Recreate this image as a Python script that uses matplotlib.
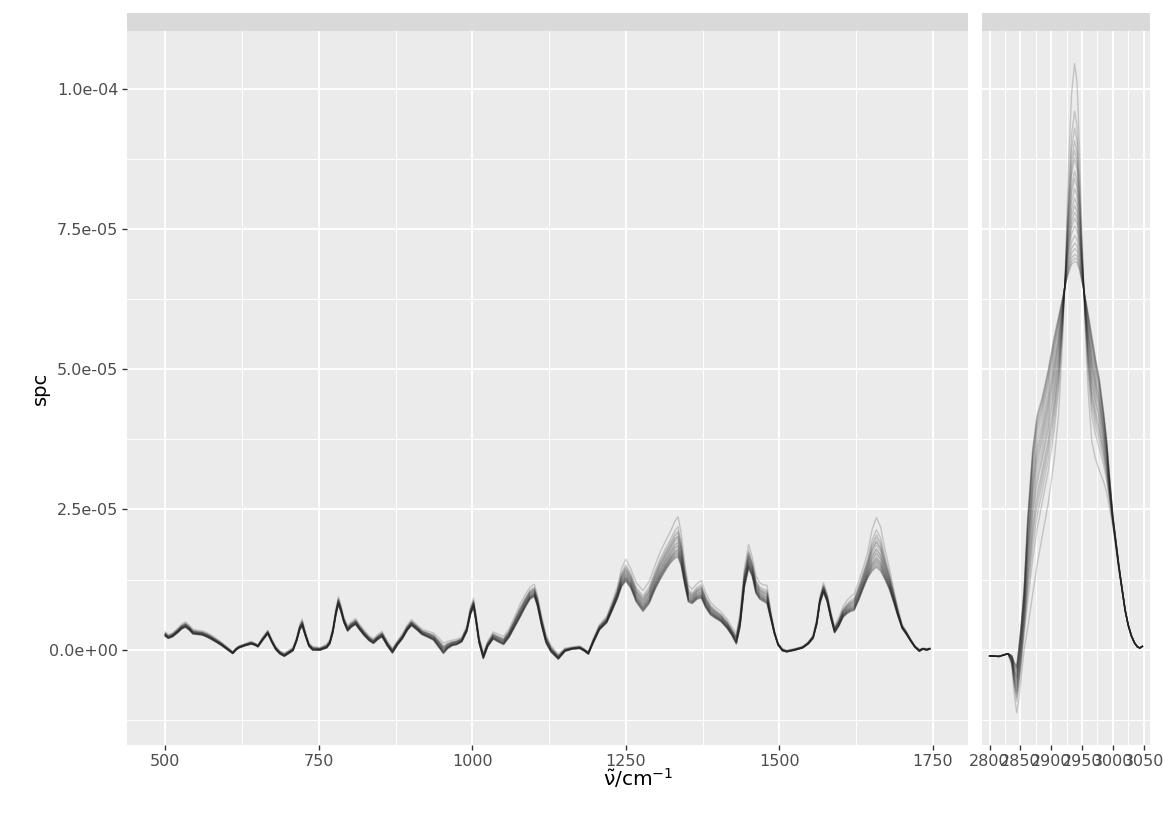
import numpy as np
import matplotlib.pyplot as plt
from matplotlib.patches import Rectangle

plt.rcParams['font.family'] = ['DejaVu Sans']
plt.rcParams['mathtext.fontset'] = 'dejavusans'
plt.rcParams['mathtext.default'] = 'regular'

# fingerprint region: wavenumber (cm^-1), lower and upper envelope of the spectra (x 1e-5)
wn_fp = [500, 505, 512, 520, 527, 533, 539, 545, 552, 560,
         567, 574, 582, 591, 600, 610, 615, 620, 630, 640,
         646, 651, 659, 667, 674, 680, 687, 694, 701, 708,
         714, 719, 723, 728, 734, 740, 752, 763, 768, 773,
         778, 782, 786, 791, 797, 803, 810, 816, 824, 832,
         839, 846, 853, 862, 870, 878, 886, 894, 901, 909,
         918, 928, 937, 945, 953, 960, 967, 975, 983, 991,
         997, 1002, 1006, 1011, 1018, 1025, 1034, 1042, 1051, 1060,
         1070, 1078, 1086, 1094, 1101, 1106, 1113, 1120, 1128, 1140,
         1151, 1163, 1175, 1182, 1189, 1197, 1207, 1219, 1228, 1236,
         1243, 1250, 1258, 1267, 1278, 1288, 1298, 1306, 1315, 1323,
         1330, 1335, 1340, 1346, 1352, 1358, 1366, 1373, 1380, 1388,
         1396, 1405, 1415, 1423, 1430, 1436, 1443, 1450, 1456, 1462,
         1468, 1474, 1480, 1486, 1492, 1498, 1505, 1512, 1525, 1538,
         1547, 1555, 1561, 1566, 1572, 1578, 1584, 1590, 1597, 1604,
         1610, 1616, 1622, 1630, 1637, 1644, 1651, 1658, 1665, 1672,
         1679, 1686, 1693, 1700, 1707, 1714, 1721, 1728, 1734, 1740,
         1745]
fp_low = [0.24, 0.20, 0.23, 0.30, 0.37, 0.40, 0.35, 0.28, 0.27, 0.26,
          0.23, 0.19, 0.14, 0.08, 0.01, -0.07, -0.01, 0.03, 0.07, 0.10,
          0.08, 0.05, 0.17, 0.28, 0.12, 0.00, -0.08, -0.12, -0.07, -0.02,
          0.15, 0.35, 0.42, 0.25, 0.06, -0.01, -0.01, 0.03, 0.10, 0.30,
          0.62, 0.80, 0.68, 0.48, 0.33, 0.40, 0.45, 0.36, 0.25, 0.16,
          0.11, 0.18, 0.23, 0.06, -0.06, 0.08, 0.19, 0.34, 0.43, 0.36,
          0.27, 0.22, 0.17, 0.05, -0.07, 0.02, 0.07, 0.09, 0.14, 0.32,
          0.62, 0.76, 0.50, 0.12, -0.16, 0.05, 0.19, 0.14, 0.09, 0.22,
          0.42, 0.58, 0.75, 0.90, 0.95, 0.78, 0.42, 0.12, -0.04, -0.17,
          -0.03, 0.01, 0.02, -0.02, -0.08, 0.12, 0.35, 0.48, 0.70, 0.90,
          1.12, 1.22, 1.10, 0.85, 0.68, 0.82, 1.08, 1.25, 1.42, 1.55,
          1.63, 1.65, 1.50, 1.15, 0.85, 0.82, 0.90, 0.92, 0.75, 0.62,
          0.56, 0.50, 0.38, 0.25, 0.10, 0.40, 1.10, 1.45, 1.30, 1.00,
          0.90, 0.86, 0.82, 0.55, 0.28, 0.08, -0.02, -0.04, -0.01, 0.03,
          0.10, 0.20, 0.45, 0.82, 1.02, 0.85, 0.55, 0.30, 0.42, 0.58,
          0.64, 0.68, 0.70, 0.90, 1.10, 1.28, 1.40, 1.47, 1.40, 1.25,
          1.08, 0.85, 0.60, 0.38, 0.27, 0.15, 0.04, -0.03, 0.01, -0.01,
          0.01]
fp_high = [0.32, 0.27, 0.30, 0.38, 0.46, 0.50, 0.44, 0.37, 0.35, 0.34,
           0.31, 0.27, 0.21, 0.14, 0.06, -0.03, 0.03, 0.07, 0.11, 0.15,
           0.12, 0.09, 0.23, 0.35, 0.18, 0.06, -0.02, -0.06, -0.01, 0.04,
           0.22, 0.45, 0.55, 0.33, 0.12, 0.06, 0.04, 0.10, 0.18, 0.40,
           0.74, 0.95, 0.80, 0.58, 0.43, 0.50, 0.56, 0.46, 0.35, 0.25,
           0.20, 0.27, 0.33, 0.15, 0.03, 0.16, 0.28, 0.44, 0.54, 0.46,
           0.37, 0.33, 0.30, 0.22, 0.12, 0.15, 0.17, 0.19, 0.23, 0.42,
           0.76, 0.92, 0.64, 0.24, -0.05, 0.15, 0.32, 0.28, 0.24, 0.38,
           0.62, 0.82, 0.98, 1.12, 1.17, 0.98, 0.60, 0.28, 0.08, -0.08,
           0.03, 0.05, 0.07, 0.02, -0.03, 0.20, 0.45, 0.60, 0.86, 1.12,
           1.45, 1.62, 1.45, 1.20, 1.06, 1.22, 1.52, 1.75, 1.95, 2.12,
           2.30, 2.38, 2.10, 1.55, 1.15, 1.08, 1.18, 1.24, 1.02, 0.85,
           0.76, 0.68, 0.55, 0.40, 0.30, 0.65, 1.45, 1.88, 1.65, 1.32,
           1.20, 1.16, 1.15, 0.70, 0.35, 0.12, 0.02, -0.01, 0.02, 0.06,
           0.14, 0.26, 0.55, 0.95, 1.20, 1.00, 0.68, 0.42, 0.58, 0.78,
           0.88, 0.95, 1.00, 1.25, 1.48, 1.75, 2.15, 2.37, 2.20, 1.80,
           1.47, 1.10, 0.75, 0.45, 0.33, 0.19, 0.07, 0.01, 0.03, 0.02,
           0.03]

# CH stretching region: wavenumber (cm^-1), broad/low and narrow/high spectrum (x 1e-5)
wn_ch = [2800, 2815, 2830, 2836, 2840, 2844, 2848, 2852, 2856, 2862,
         2870, 2877, 2885, 2895, 2905, 2912, 2918, 2923, 2928, 2933,
         2938, 2942, 2946, 2950, 2955, 2960, 2966, 2972, 2978, 2985,
         2990, 2995, 3000, 3005, 3010, 3015, 3020, 3025, 3030, 3035,
         3040, 3044, 3048]
ch_broad = [-0.11, -0.12, -0.07, -0.10, -0.22, -0.28, 0.10, 0.55, 1.10, 2.40,
            3.60, 4.20, 4.50, 5.00, 5.60, 5.95, 6.25, 6.50, 6.70, 6.85,
            6.90, 6.88, 6.75, 6.55, 6.30, 6.00, 5.60, 5.20, 4.85, 4.25,
            3.75, 3.05, 2.40, 1.95, 1.50, 1.10, 0.72, 0.45, 0.26, 0.13,
            0.05, 0.03, 0.06]
ch_narrow = [-0.11, -0.12, -0.07, -0.30, -0.80, -1.12, -0.85, -0.40, 0.00, 0.40,
             1.00, 1.50, 2.00, 2.60, 3.40, 4.20, 5.40, 6.80, 8.60, 9.90,
             10.45, 10.10, 8.90, 7.40, 5.80, 4.60, 3.70, 3.40, 3.20, 3.00,
             2.80, 2.50, 2.20, 1.80, 1.40, 1.05, 0.68, 0.42, 0.24, 0.12,
             0.05, 0.03, 0.06]

# per-spectrum peak heights (x 1e-5) at 1335 and 2938 cm^-1
peak_1335 = [2.37, 2.19, 2.12, 2.08, 2.03, 2.01, 1.97, 1.92, 1.90, 1.86,
             1.84, 1.80, 1.78, 1.76, 1.74, 1.72, 1.70, 1.68, 1.66, 1.65]
peak_2938 = [10.45, 9.60, 9.30, 9.07, 8.90, 8.76, 8.53, 8.40, 8.22, 8.05,
             7.92, 7.80, 7.69, 7.55, 7.38, 7.25, 7.15, 7.05, 6.98, 6.92]

ytick_pos = [0, 2.5, 5, 7.5, 10]
ytick_labels = ['0.0e+00', '2.5e-05', '5.0e-05', '7.5e-05', '1.0e-04']

W, H = 1164, 814
fig = plt.figure(figsize=(W / 100, H / 100), dpi=100)
ax1 = fig.add_axes([127 / W, 69 / H, 841 / W, 714 / H])
ax2 = fig.add_axes([982 / W, 69 / H, 168 / W, 714 / H])

wn_fp_a, lo, hi = np.array(wn_fp), np.array(fp_low), np.array(fp_high)
i_fp = wn_fp.index(1335)
wn_ch_a, br, na = np.array(wn_ch), np.array(ch_broad), np.array(ch_narrow)
i_ch = wn_ch.index(2938)

for p1, p2 in zip(peak_1335, peak_2938):
    w1 = (p1 - lo[i_fp]) / (hi[i_fp] - lo[i_fp])
    ax1.plot(wn_fp_a, lo + w1 * (hi - lo), color='#202020', alpha=0.2, lw=1.0,
             solid_joinstyle='round')
    w2 = (p2 - br[i_ch]) / (na[i_ch] - br[i_ch])
    ax2.plot(wn_ch_a, br + w2 * (na - br), color='#202020', alpha=0.2, lw=1.0,
             solid_joinstyle='round')

ymin = min(lo.min(), na.min())
ymax = max(hi.max(), na.max())
pad = 0.05 * (ymax - ymin)

for ax, wn, major, minor in [(ax1, wn_fp, np.arange(500, 1751, 250), np.arange(625, 1626, 250)),
                            (ax2, wn_ch, np.arange(2800, 3051, 50), np.arange(2825, 3026, 50))]:
    r = wn[-1] - wn[0]
    ax.set_xlim(wn[0] - 0.05 * r, wn[-1] + 0.05 * r)
    ax.set_ylim(ymin - pad, ymax + pad)
    ax.set_facecolor('#EBEBEB')
    for s in ax.spines.values():
        s.set_visible(False)
    ax.set_xticks(major)
    ax.set_xticks(minor, minor=True)
    ax.set_yticks(ytick_pos)
    ax.set_yticks([-1.25, 1.25, 3.75, 6.25, 8.75], minor=True)
    ax.set_axisbelow(True)
    ax.grid(which='major', color='white', lw=1.4)
    ax.grid(which='minor', color='white', lw=0.7)
    ax.tick_params(which='major', length=3.8, width=1.0, color='#333333',
                   labelcolor='#4D4D4D', labelsize=11.5, pad=2.5)
    ax.tick_params(which='minor', length=0)
    ax.add_patch(Rectangle((0, 1), 1, 18 / 714, transform=ax.transAxes,
                           facecolor='#D9D9D9', edgecolor='none', clip_on=False))

ax1.set_yticklabels(ytick_labels)
ax2.tick_params(axis='y', which='major', length=0, labelleft=False)

fig.text(638 / W, 36 / H, r'$\tilde{\nu}/\mathrm{cm}^{-1}$', ha='center', va='center', fontsize=14.5)
fig.text(40 / W, (H - 388) / H, 'spc', rotation=90, ha='center', va='center', fontsize=14)

fig.savefig('out.png', dpi=100)
